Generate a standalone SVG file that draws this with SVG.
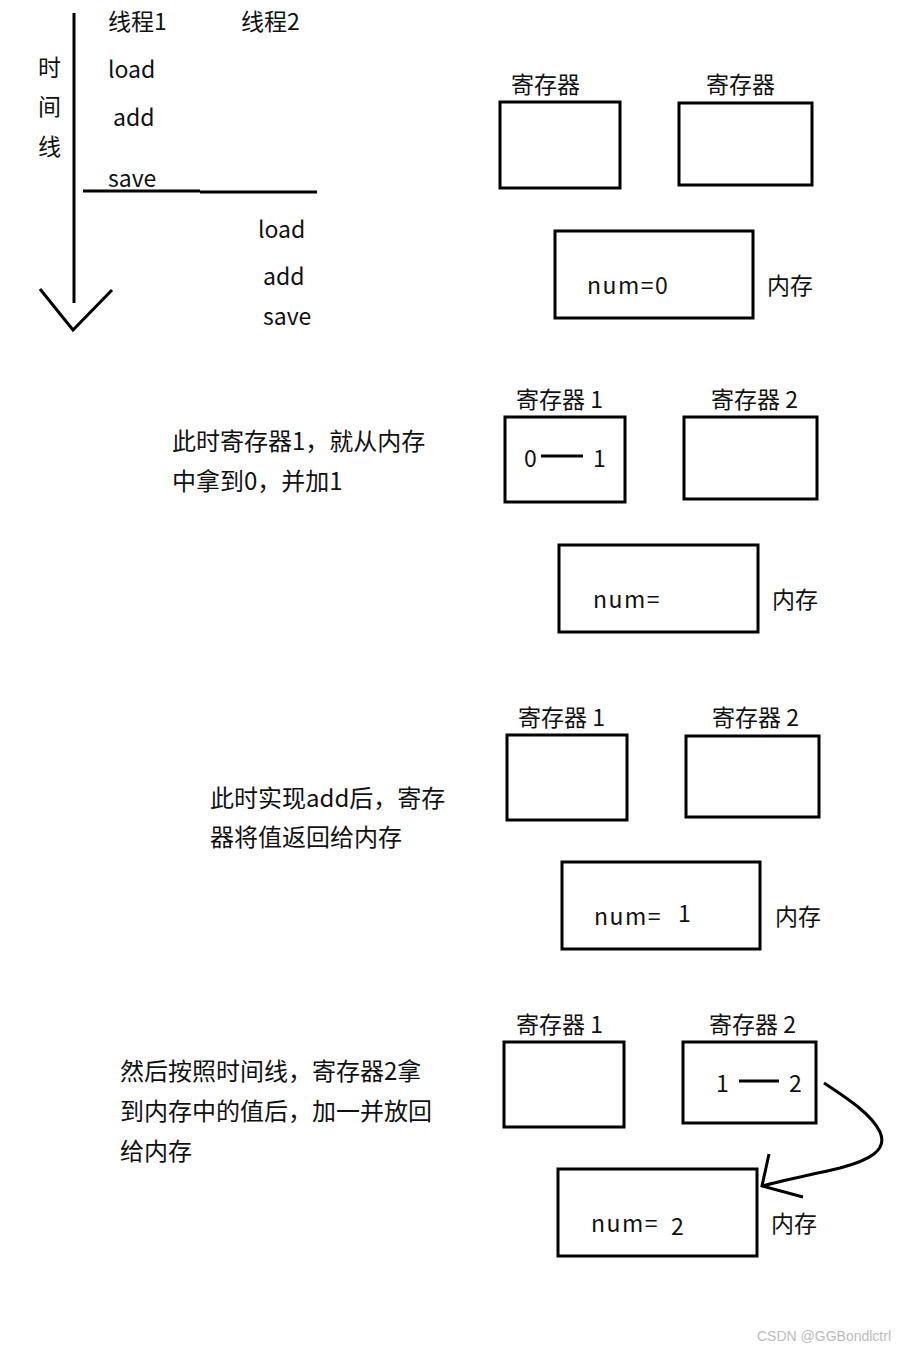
<svg xmlns="http://www.w3.org/2000/svg" width="918" height="1350" viewBox="0 0 918 1350">
<style>
.t{font-family:"Noto Sans CJK SC","Noto Sans",sans-serif;font-size:23px;fill:#111}
.n{letter-spacing:1.5px}
.s{font-family:"Noto Sans CJK SC","Noto Sans",sans-serif;font-size:24px;fill:#111}
.box{fill:none;stroke:#000;stroke-width:3}
.ln{fill:none;stroke:#000;stroke-width:3}
.wm{font-family:"Liberation Sans",sans-serif;font-size:14px;fill:#bbb}
</style>
<rect width="918" height="1350" fill="#fff"/>
<g id="timeline">
<path class="ln" d="M74 13 V303"/>
<path class="ln" d="M40 289 L73 330 L112 290"/>
<text class="t" x="38" y="76">时</text>
<text class="t" x="38" y="115">间</text>
<text class="t" x="38" y="155">线</text>
<text class="t" x="108" y="30">线程1</text>
<text class="t" x="241" y="30">线程2</text>
<text class="t" x="108" y="78">load</text>
<text class="t" x="113" y="126">add</text>
<text class="t" x="108" y="187">save</text>
<path class="ln" d="M83 191 H200 M200 192 H317"/>
<text class="t" x="258" y="238">load</text>
<text class="t" x="263" y="285">add</text>
<text class="t" x="263" y="325">save</text>
</g>
<g id="s1-reg1">
<text class="t" x="511" y="93">寄存器</text>
<rect class="box" x="500" y="102" width="120" height="86"/>
</g>
<g id="s1-reg2">
<text class="t" x="706" y="93">寄存器</text>
<rect class="box" x="679" y="103" width="133" height="82"/>
</g>
<g id="s1-mem">
<rect class="box" x="555" y="231" width="198" height="87"/>
<text class="t n" x="587" y="294">num=0</text>
<text class="t" x="767" y="294">内存</text>
</g>
<g id="s2-note">
<text class="s" x="172" y="450">此时寄存器1，就从内存</text>
<text class="s" x="172" y="490">中拿到0，并加1</text>
</g>
<g id="s2-reg1">
<text class="t" x="516" y="408">寄存器 1</text>
<rect class="box" x="505" y="417" width="120" height="85"/>
<text class="t" x="524" y="467">0</text>
<path class="ln" d="M541 456 H583"/>
<text class="t" x="593" y="467">1</text>
</g>
<g id="s2-reg2">
<text class="t" x="711" y="408">寄存器 2</text>
<rect class="box" x="684" y="417" width="133" height="82"/>
</g>
<g id="s2-mem">
<rect class="box" x="559" y="545" width="199" height="87"/>
<text class="t n" x="593" y="608">num=</text>
<text class="t" x="772" y="608">内存</text>
</g>
<g id="s3-note">
<text class="s" x="210" y="807">此时实现add后，寄存</text>
<text class="s" x="210" y="846">器将值返回给内存</text>
</g>
<g id="s3-reg1">
<text class="t" x="518" y="726">寄存器 1</text>
<rect class="box" x="507" y="735" width="120" height="85"/>
</g>
<g id="s3-reg2">
<text class="t" x="712" y="726">寄存器 2</text>
<rect class="box" x="686" y="736" width="133" height="81"/>
</g>
<g id="s3-mem">
<rect class="box" x="562" y="862" width="198" height="87"/>
<text class="t n" x="594" y="925">num=</text>
<text class="t" x="678" y="922">1</text>
<text class="t" x="775" y="925">内存</text>
</g>
<g id="s4-note">
<text class="s" x="120" y="1080">然后按照时间线，寄存器2拿</text>
<text class="s" x="120" y="1120">到内存中的值后，加一并放回</text>
<text class="s" x="120" y="1160">给内存</text>
</g>
<g id="s4-reg1">
<text class="t" x="516" y="1033">寄存器 1</text>
<rect class="box" x="504" y="1042" width="120" height="85"/>
</g>
<g id="s4-reg2">
<text class="t" x="709" y="1033">寄存器 2</text>
<rect class="box" x="683" y="1042" width="133" height="81"/>
<text class="t" x="716" y="1092">1</text>
<path class="ln" d="M739 1081 H779"/>
<text class="t" x="789" y="1092">2</text>
</g>
<g id="s4-mem">
<rect class="box" x="558" y="1169" width="199" height="87"/>
<text class="t n" x="591" y="1232">num=</text>
<text class="t" x="671" y="1235">2</text>
<text class="t" x="771" y="1232">内存</text>
</g>
<g id="connectors">
<path class="ln" stroke-width="2.5" d="M824 1083 C850 1100 872 1115 880 1132 C888 1150 870 1160 840 1168 C810 1175 785 1180 762 1186"/>
<path class="ln" stroke-width="2.5" d="M769 1154 L762 1186 L803 1197"/>
</g>
<text class="wm" x="757" y="1341">CSDN @GGBondlctrl</text>
</svg>
